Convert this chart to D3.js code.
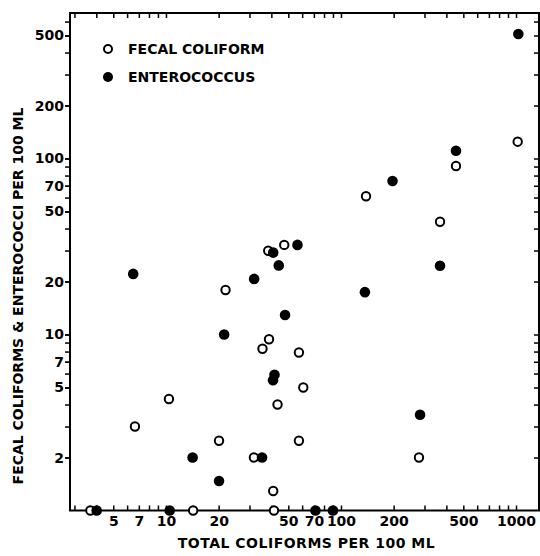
<!DOCTYPE html>
<html>
<head>
<meta charset="utf-8">
<script src="https://cdn.jsdelivr.net/npm/d3@7"></script>
<style>
  body { margin: 0; background: #fff; }
  svg { display: block; }
  text { font-family: "DejaVu Sans", sans-serif; font-weight: bold; fill: #000; }
</style>
</head>
<body>
<svg id="viz"></svg>
<script>
const WIDTH = 540
const HEIGHT = 556

// fecal coliform (open circles): total coliforms vs fecal coliforms per 100 ml
const fecalTotal = [3.7, 6.65, 10.4, 14.3, 20.1, 21.9, 31.8, 35.6, 38.8, 38.4, 47.4,
    41.0, 41.4, 43.4, 57.5, 57.5, 60.9, 139, 279, 368, 454, 1022]
const fecalCount = [1, 3, 4.3, 1, 2.49, 17.9, 2, 8.3, 9.4, 29.9, 32.3,
    1.29, 1, 4, 7.9, 2.49, 5, 61, 2, 43.7, 90.7, 124.6]

// enterococcus (filled circles)
const enteroTotal = [4.02, 6.5, 10.5, 14.2, 20.1, 21.5, 31.9, 35.4, 41.0, 44.1, 41.7,
    40.9, 47.9, 56.4, 71.5, 90, 137, 197, 283, 368, 454, 1031]
const enteroCount = [1, 22.1, 1, 2, 1.47, 10, 20.7, 2, 29.2, 24.7, 5.9,
    5.5, 12.9, 32.3, 1, 1, 17.4, 74.5, 3.5, 24.6, 110.7, 510]

const xTickLabels = [5, 7, 10, 20, 50, 70, 100, 200, 500, 1000]
const yTickLabels = [2, 5, 7, 10, 20, 50, 70, 100, 200, 500]

const legendNames = ['FECAL COLIFORM', 'ENTEROCOCCUS']

const PLOT = { left: 70, right: 539, top: 13, bottom: 510.5 }

const x = d3.scaleLog().domain([2.83, 1353]).range([PLOT.left, PLOT.right])
const y = d3.scaleLog().domain([1, 671]).range([PLOT.bottom, PLOT.top])

const minorTicks = (scale) => {
    const [lo, hi] = scale.domain()
    const out = []
    for (let dec = 1; dec <= 1000; dec *= 10) {
        for (let m = 1; m <= 9; m++) {
            const v = m * dec
            if (v > lo && v < hi) out.push(v)
        }
    }
    return out
}

const svg = d3.select('#viz')
    .attr('width', WIDTH)
    .attr('height', HEIGHT)

// frame
svg.append('rect')
    .attr('x', PLOT.left)
    .attr('y', PLOT.top)
    .attr('width', PLOT.right - PLOT.left)
    .attr('height', PLOT.bottom - PLOT.top)
    .style('fill', 'none')
    .style('stroke', '#000')
    .style('stroke-width', 2)

const styleAxis = (g) => {
    g.select('.domain').remove()
    g.selectAll('line').style('stroke', '#000').style('stroke-width', 1.5)
    g.selectAll('text')
        .style('font-family', '"DejaVu Sans", sans-serif')
        .style('font-weight', 'bold')
        .style('font-size', '14px')
}

// bottom axis, ticks pointing inward
svg.append('g')
    .attr('transform', `translate(0,${PLOT.bottom})`)
    .call(d3.axisBottom(x).tickValues(minorTicks(x)).tickSizeInner(-5).tickSizeOuter(0).tickFormat(''))
    .call(styleAxis)
svg.append('g')
    .attr('transform', `translate(0,${PLOT.bottom})`)
    .call(d3.axisBottom(x).tickValues(xTickLabels).tickSize(0).tickPadding(6).tickFormat(d3.format('d')))
    .call(styleAxis)

// top axis
svg.append('g')
    .attr('transform', `translate(0,${PLOT.top})`)
    .call(d3.axisTop(x).tickValues(minorTicks(x)).tickSizeInner(-5).tickSizeOuter(0).tickFormat(''))
    .call(styleAxis)

// left axis, ticks pointing outward
svg.append('g')
    .attr('transform', `translate(${PLOT.left},0)`)
    .call(d3.axisLeft(y).tickValues(minorTicks(y)).tickSizeInner(5).tickSizeOuter(0).tickFormat(''))
    .call(styleAxis)
svg.append('g')
    .attr('transform', `translate(${PLOT.left},0)`)
    .call(d3.axisLeft(y).tickValues(yTickLabels).tickSize(5).tickPadding(1).tickFormat(d3.format('d')))
    .call(styleAxis)

// right axis
svg.append('g')
    .attr('transform', `translate(${PLOT.right},0)`)
    .call(d3.axisRight(y).tickValues(minorTicks(y)).tickSizeInner(-5).tickSizeOuter(0).tickFormat(''))
    .call(styleAxis)

// axis titles
svg.append('text')
    .attr('x', (PLOT.left + PLOT.right) / 2 + 2)
    .attr('y', 548)
    .attr('text-anchor', 'middle')
    .style('font-size', '14px')
    .style('letter-spacing', '0.5px')
    .text('TOTAL COLIFORMS PER 100 ML')

svg.append('text')
    .attr('transform', 'translate(23,296) rotate(-90)')
    .attr('text-anchor', 'middle')
    .style('font-size', '14px')
    .text('FECAL COLIFORMS & ENTEROCOCCI PER 100 ML')

// points
const fecal = fecalTotal.map((t, i) => ({ total: t, count: fecalCount[i] }))
const entero = enteroTotal.map((t, i) => ({ total: t, count: enteroCount[i] }))

svg.append('g').selectAll('circle')
    .data(fecal)
    .enter().append('circle')
        .attr('cx', d => x(d.total))
        .attr('cy', d => y(d.count))
        .attr('r', 4.2)
        .style('fill', '#fff')
        .style('stroke', '#000')
        .style('stroke-width', 2)

svg.append('g').selectAll('circle')
    .data(entero)
    .enter().append('circle')
        .attr('cx', d => x(d.total))
        .attr('cy', d => y(d.count))
        .attr('r', 5.3)
        .style('fill', '#000')

// legend
const legend = svg.append('g')
    .selectAll('g')
    .data(legendNames)
    .enter().append('g')
        .attr('transform', (d, i) => `translate(108,${49 + i * 28})`)

legend.append('circle')
    .attr('r', (d, i) => i === 0 ? 4 : 5)
    .style('fill', (d, i) => i === 0 ? '#fff' : '#000')
    .style('stroke', '#000')
    .style('stroke-width', (d, i) => i === 0 ? 2 : 0)

legend.append('text')
    .attr('x', 20)
    .attr('dy', '0.36em')
    .style('font-size', '14px')
    .text(d => d)
</script>
</body>
</html>
